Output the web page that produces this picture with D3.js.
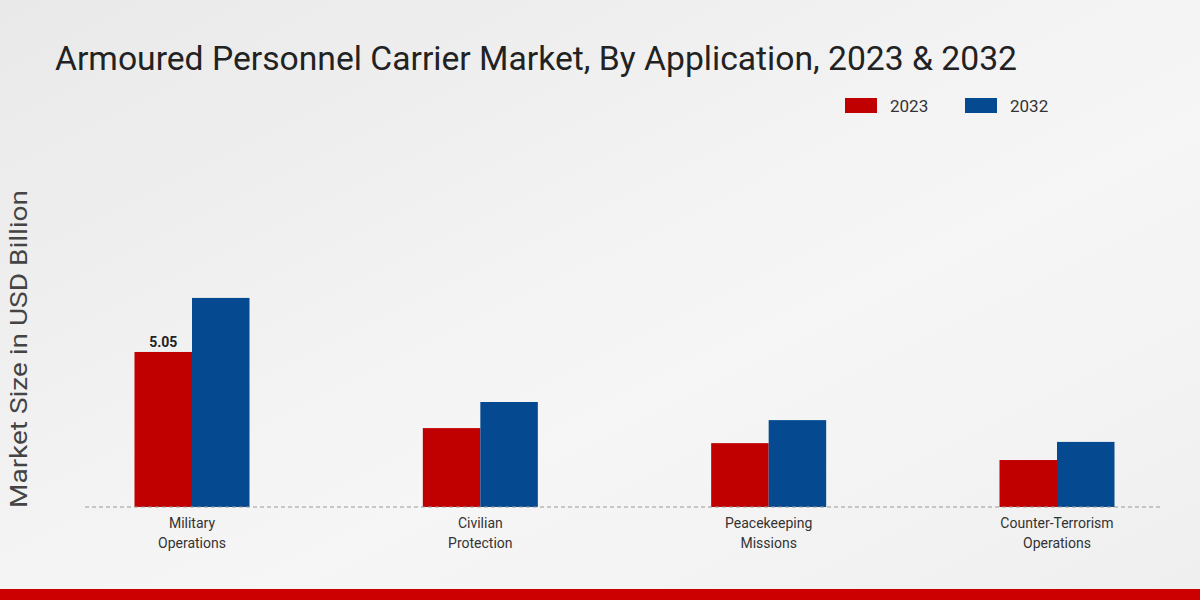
<!DOCTYPE html>
<html><head><meta charset="utf-8">
<script src="https://cdn.jsdelivr.net/npm/d3@7"></script>
<style>body{margin:0}svg{display:block}</style></head>
<body><svg id="c" width="1200" height="600"></svg>
<script>
const categories = [["Military","Operations"],["Civilian","Protection"],["Peacekeeping","Missions"],["Counter-Terrorism","Operations"]];
const catKeys = ["Military Operations","Civilian Protection","Peacekeeping Missions","Counter-Terrorism Operations"];
const seriesNames = ["2023","2032"];
const values2023 = [5.05, 2.57, 2.08, 1.53];
const values2032 = [6.81, 3.42, 2.83, 2.12];
const colors = ["#c00000","#054a91"];

const svg = d3.select("#c");
const defs = svg.append("defs");
const g = defs.append("linearGradient").attr("id","bg").attr("x1",0).attr("y1",0).attr("x2",1).attr("y2",1);
g.append("stop").attr("offset","0%").attr("stop-color","#e9e9e9");
g.append("stop").attr("offset","60%").attr("stop-color","#f6f6f6");
g.append("stop").attr("offset","100%").attr("stop-color","#efefef");
svg.append("rect").attr("width",1200).attr("height",600).attr("fill","url(#bg)");
svg.append("rect").attr("y",589).attr("width",1200).attr("height",11).attr("fill","#cc0000");

const baseY = 507;
const x = d3.scalePoint().domain(catKeys).range([192,1057]);
const y = d3.scaleLinear().domain([0,10]).range([baseY, baseY-307]);
const bw = 57.5;

[values2023, values2032].forEach((vals, si) => {
  svg.append("g").selectAll("rect").data(vals).join("rect")
    .attr("x",(d,i)=>x(catKeys[i]) + (si===0 ? -bw : 0))
    .attr("width",bw)
    .attr("y",d=>y(d)).attr("height",d=>baseY-y(d))
    .attr("fill",colors[si]);
});
svg.append("text").attr("x",x(catKeys[0])-bw/2).attr("y",y(values2023[0])-5)
  .attr("text-anchor","middle").attr("font-family","Roboto, sans-serif").attr("font-weight","bold")
  .attr("font-size",14).attr("fill","#222").text(values2023[0].toFixed(2));

svg.append("line").attr("x1",85).attr("x2",1162).attr("y1",baseY).attr("y2",baseY)
  .attr("stroke","#999").attr("stroke-dasharray","4,3");

const lab = svg.append("g").selectAll("text").data(categories).join("text")
  .attr("text-anchor","middle").attr("font-family","Roboto, sans-serif").attr("font-size",14).attr("fill","#333");
lab.each(function(d,i){
  const t=d3.select(this);
  d.forEach((s,j)=>t.append("tspan").attr("x",x(catKeys[i])).attr("y",528+j*20).text(s));
});

svg.append("text").attr("x",55).attr("y",70).attr("font-family","Roboto, sans-serif")
  .attr("font-size",34).attr("fill","#222").attr("textLength",962).attr("lengthAdjust","spacingAndGlyphs")
  .text("Armoured Personnel Carrier Market, By Application, 2023 & 2032");

svg.append("text").attr("transform","translate(27,349) rotate(-90)").attr("text-anchor","middle")
  .attr("font-family","Roboto, sans-serif").attr("font-size",24).attr("fill","#444")
  .attr("textLength",318).attr("lengthAdjust","spacingAndGlyphs")
  .text("Market Size in USD Billion");

const lx=[845,965];
seriesNames.forEach((s,i)=>{
  svg.append("rect").attr("x",lx[i]).attr("y",98).attr("width",32).attr("height",15).attr("fill",colors[i]);
  svg.append("text").attr("x",lx[i]+45).attr("y",112).attr("font-family","Roboto, sans-serif")
    .attr("font-size",17).attr("fill","#333").text(s);
});
</script></body></html>
